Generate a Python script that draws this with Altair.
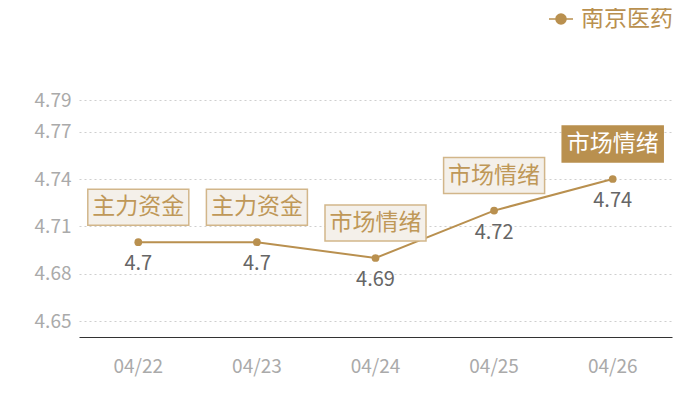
import altair as alt
import pandas as pd

dates = ["04/22", "04/23", "04/24", "04/25", "04/26"]
values = [4.70, 4.70, 4.69, 4.72, 4.74]
tags = ["主力资金", "主力资金", "市场情绪", "市场情绪", "市场情绪"]
highlight = [False, False, False, False, True]
series = "南京医药"
y_ticks = [4.65, 4.68, 4.71, 4.74, 4.77, 4.79]

GOLD = "#b9904f"
FONT = "Noto Sans CJK SC"

df = pd.DataFrame({
    "date": dates,
    "value": values,
    "tag": tags,
    "hl": highlight,
    "series": [series] * len(dates),
})
df["label"] = df["value"].map(lambda v: f"{v:g}")

x_enc = alt.X("date:N", sort=dates,
              scale=alt.Scale(type="band", paddingInner=0, paddingOuter=0),
              axis=alt.Axis(title=None, labelAngle=0, ticks=False, domainColor="#333333",
                            labelColor="#aaaaaa", labelFontSize=19, labelFont=FONT,
                            labelPadding=20, grid=False))
y_enc = alt.Y("value:Q",
              scale=alt.Scale(domain=[4.64, 4.79], nice=False, zero=False),
              axis=alt.Axis(title=None, values=y_ticks, domain=False, ticks=False,
                            labelColor="#aaaaaa", labelFontSize=19, labelFont=FONT,
                            labelPadding=8, grid=True, gridColor="#cfcfcf",
                            gridDash=[2, 3], format="g"))

base = alt.Chart(df).encode(x=x_enc, y=y_enc)

legend_path = "M-1,0 L1,0 M-0.42,0 A0.42,0.42 0 1,1 0.42,0 A0.42,0.42 0 1,1 -0.42,0 Z"

line = base.mark_line(strokeWidth=2).encode(
    color=alt.Color("series:N", scale=alt.Scale(range=[GOLD]),
                    legend=alt.Legend(title=None, orient="none", legendX=469, legendY=-94,
                                      symbolType=legend_path, symbolSize=576,
                                      symbolStrokeWidth=1.5, symbolFillColor=GOLD,
                                      symbolStrokeColor=GOLD,
                                      labelColor=GOLD, labelFontSize=23, labelFont=FONT,
                                      labelOffset=7))
)
points = base.mark_point(filled=True, size=60, opacity=1, color=GOLD)

value_text = base.mark_text(dy=22, fontSize=20, font=FONT, color="#666666").encode(
    text="label:N")

box_path = "M-1,-0.356 L1,-0.356 L1,0.356 L-1,0.356 Z"
boxes = base.mark_point(shape=box_path, size=10201, filled=True, opacity=1,
                        strokeWidth=1.5, yOffset=-35).encode(
    fill=alt.condition("datum.hl", alt.value(GOLD), alt.value("#f4f0ea")),
    stroke=alt.condition("datum.hl", alt.value(GOLD), alt.value("#d2b68a")),
)
box_text = base.mark_text(dy=-35, fontSize=23, font=FONT, baseline="middle").encode(
    text="tag:N",
    color=alt.condition("datum.hl", alt.value("#ffffff"), alt.value("#bf9858")),
)

chart = alt.layer(line, points, value_text, boxes, box_text).properties(
    width=593, height=237,
    background="white",
    autosize=alt.AutoSizeParams(type="none"),
    padding={"left": 71, "top": 92, "right": 20, "bottom": 55},
).configure_view(stroke=None)

chart.save("out.html", embed_options={"renderer": "svg", "actions": False})
